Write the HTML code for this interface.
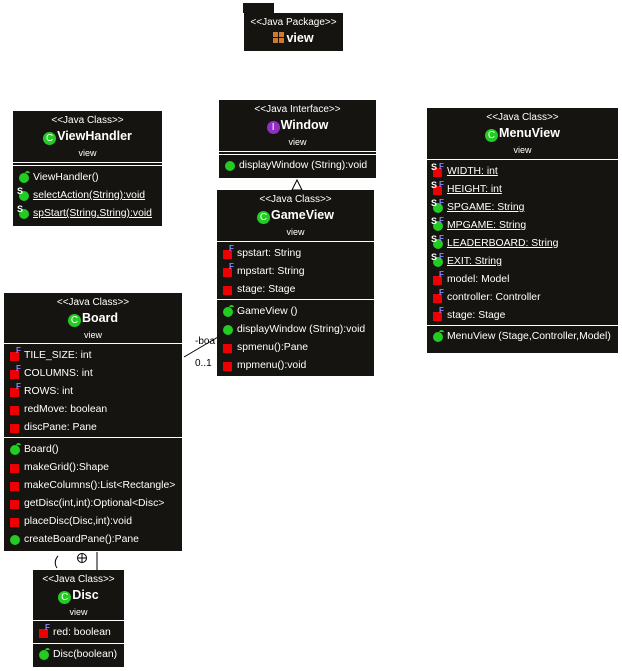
<!DOCTYPE html>
<html><head><meta charset="utf-8">
<style>
body{margin:0;width:622px;height:671px;background:#fff;position:relative;overflow:hidden;font-family:"Liberation Sans",sans-serif;}
.box{position:absolute;background:#161410;color:#fff;font-size:10.4px;overflow:hidden;}
.hd{text-align:center;}
.st{font-size:10px;line-height:12px;padding-top:1px;}
.nm{font-size:12.5px;font-weight:bold;line-height:19px;}
.vw{font-size:9px;line-height:14px;}
.cp{border-top:1px solid #fff;padding-top:3px;}
.r{position:relative;height:18px;line-height:18px;padding-left:20px;white-space:nowrap;}
.u{text-decoration:underline;}
.sq{position:absolute;left:6px;top:5px;width:9px;height:9px;background:#e00;}
.ci{position:absolute;left:6px;top:4px;width:10px;height:10px;border-radius:50%;background:#2c2;}
.f{position:absolute;left:12px;top:0px;font-size:8px;line-height:8px;color:#88f;font-weight:bold;}
.s{position:absolute;left:4px;top:0px;font-size:9px;line-height:9px;color:#fff;font-weight:bold;}
.cn{position:absolute;left:12px;top:2px;width:5px;height:3px;border-top:2px solid #2c2;border-radius:4px 4px 0 0;}
.ic{display:inline-block;width:13px;height:13px;border-radius:50%;background:#2c2;color:#fff;font-size:10px;line-height:13px;text-align:center;font-weight:normal;vertical-align:-1px;margin-right:1px;}
</style></head><body>

<div style="position:absolute;left:243px;top:3px;width:31px;height:10px;background:#161410"></div>
<div class="box" style="left:244px;top:13px;width:99px;height:38px;">
<div class="hd"><div class="st" style="padding-top:4px">&lt;&lt;Java Package&gt;&gt;</div>
<div class="nm"><span style="display:inline-block;width:11px;height:11px;background:linear-gradient(#161410,#161410) 5px 0/1px 11px no-repeat,linear-gradient(#161410,#161410) 0 5px/11px 1px no-repeat,#d07a30;vertical-align:-1px;margin-right:2px"></span>view</div></div>
</div>

<!-- ViewHandler -->
<div class="box" style="left:13px;top:111px;width:149px;height:115px;">
<div class="hd" style="height:51px"><div class="st" style="padding-top:4px">&lt;&lt;Java Class&gt;&gt;</div><div class="nm"><span class="ic">C</span>ViewHandler</div><div class="vw">view</div></div>
<div class="cp" style="height:2px;padding:0"></div>
<div class="cp">
<div class="r"><span class="ci"></span><span class="cn"></span>ViewHandler()</div>
<div class="r"><span class="ci"></span><span class="s">S</span><span class="u">selectAction(String):void</span></div>
<div class="r"><span class="ci"></span><span class="s">S</span><span class="u">spStart(String,String):void</span></div>
</div></div>

<!-- Window -->
<div class="box" style="left:219px;top:100px;width:157px;height:78px;">
<div class="hd" style="height:51px"><div class="st" style="padding-top:4px">&lt;&lt;Java Interface&gt;&gt;</div><div class="nm"><span class="ic" style="background:#9030c0">I</span>Window</div><div class="vw">view</div></div>
<div class="cp" style="height:2px;padding:0"></div>
<div class="cp" style="padding-top:2px"><div class="r"><span class="ci"></span>displayWindow (String):void</div></div>
</div>

<svg style="position:absolute;left:0;top:0" width="622" height="671">
<polygon points="297,180 292,190 302,190" fill="#fff" stroke="#000"/>
<line x1="184" y1="357" x2="218" y2="337" stroke="#000"/>
<line x1="97" y1="552" x2="97" y2="570" stroke="#000"/>
<circle cx="82" cy="558" r="4.5" fill="#fff" stroke="#000"/>
<line x1="77.5" y1="558" x2="86.5" y2="558" stroke="#000"/>
<line x1="82" y1="553.5" x2="82" y2="562.5" stroke="#000"/>
<path d="M58,556 Q53,562 57,568" fill="none" stroke="#000"/>
<text x="195" y="344" font-size="10" font-family="Liberation Sans">-boa</text>
<text x="195" y="366" font-size="10" font-family="Liberation Sans">0..1</text>
</svg>

<!-- GameView -->
<div class="box" style="left:217px;top:190px;width:157px;height:186px;">
<div class="hd" style="height:51px"><div class="st" style="padding-top:4px">&lt;&lt;Java Class&gt;&gt;</div><div class="nm"><span class="ic">C</span>GameView</div><div class="vw">view</div></div>
<div class="cp">
<div class="r"><span class="sq"></span><span class="f">F</span>spstart: String</div>
<div class="r"><span class="sq"></span><span class="f">F</span>mpstart: String</div>
<div class="r"><span class="sq"></span>stage: Stage</div>
</div>
<div class="cp">
<div class="r"><span class="ci"></span><span class="cn"></span>GameView ()</div>
<div class="r"><span class="ci"></span>displayWindow (String):void</div>
<div class="r"><span class="sq"></span>spmenu():Pane</div>
<div class="r"><span class="sq"></span>mpmenu():void</div>
</div></div>

<!-- MenuView -->
<div class="box" style="left:427px;top:108px;width:191px;height:245px;">
<div class="hd" style="height:51px"><div class="st" style="padding-top:4px">&lt;&lt;Java Class&gt;&gt;</div><div class="nm"><span class="ic">C</span>MenuView</div><div class="vw">view</div></div>
<div class="cp">
<div class="r"><span class="sq"></span><span class="s">S</span><span class="f">F</span><span class="u">WIDTH: int</span></div>
<div class="r"><span class="sq"></span><span class="s">S</span><span class="f">F</span><span class="u">HEIGHT: int</span></div>
<div class="r"><span class="ci"></span><span class="s">S</span><span class="f">F</span><span class="u">SPGAME: String</span></div>
<div class="r"><span class="ci"></span><span class="s">S</span><span class="f">F</span><span class="u">MPGAME: String</span></div>
<div class="r"><span class="ci"></span><span class="s">S</span><span class="f">F</span><span class="u">LEADERBOARD: String</span></div>
<div class="r"><span class="ci"></span><span class="s">S</span><span class="f">F</span><span class="u">EXIT: String</span></div>
<div class="r"><span class="sq"></span><span class="f">F</span>model: Model</div>
<div class="r"><span class="sq"></span><span class="f">F</span>controller: Controller</div>
<div class="r"><span class="sq"></span><span class="f">F</span>stage: Stage</div>
</div>
<div class="cp" style="padding-top:2px"><div class="r"><span class="ci"></span><span class="cn"></span>MenuView (Stage,Controller,Model)</div></div>
</div>

<!-- Board -->
<div class="box" style="left:4px;top:293px;width:178px;height:258px;">
<div class="hd" style="height:50px"><div class="st" style="padding-top:4px">&lt;&lt;Java Class&gt;&gt;</div><div class="nm"><span class="ic">C</span>Board</div><div class="vw">view</div></div>
<div class="cp">
<div class="r"><span class="sq"></span><span class="f">F</span>TILE_SIZE: int</div>
<div class="r"><span class="sq"></span><span class="f">F</span>COLUMNS: int</div>
<div class="r"><span class="sq"></span><span class="f">F</span>ROWS: int</div>
<div class="r"><span class="sq"></span>redMove: boolean</div>
<div class="r"><span class="sq"></span>discPane: Pane</div>
</div>
<div class="cp">
<div class="r"><span class="ci"></span><span class="cn"></span>Board()</div>
<div class="r"><span class="sq"></span>makeGrid():Shape</div>
<div class="r"><span class="sq"></span>makeColumns():List&lt;Rectangle&gt;</div>
<div class="r"><span class="sq"></span>getDisc(int,int):Optional&lt;Disc&gt;</div>
<div class="r"><span class="sq"></span>placeDisc(Disc,int):void</div>
<div class="r"><span class="ci"></span>createBoardPane():Pane</div>
</div></div>

<!-- Disc -->
<div class="box" style="left:33px;top:570px;width:91px;height:97px;">
<div class="hd" style="height:50px"><div class="st" style="padding-top:4px">&lt;&lt;Java Class&gt;&gt;</div><div class="nm"><span class="ic">C</span>Disc</div><div class="vw">view</div></div>
<div class="cp" style="padding-bottom:1px"><div class="r"><span class="sq"></span><span class="f">F</span>red: boolean</div></div>
<div class="cp" style="padding-top:2px"><div class="r"><span class="ci"></span><span class="cn"></span>Disc(boolean)</div></div>
</div>

</body></html>
